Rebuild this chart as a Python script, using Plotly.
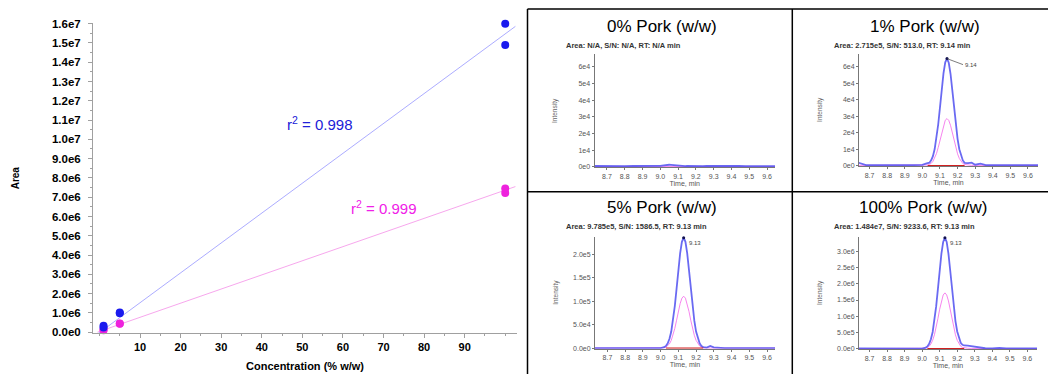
import plotly.graph_objects as go

W, H = 1048, 379
FONT = "Liberation Sans, Arial, sans-serif"

# ---------------- calibration data ----------------
conc_blue = [1, 1, 5, 5, 100, 100]
area_blue = [0.33e6, 0.24e6, 1.02e6, 0.98e6, 16.0e6, 14.9e6]
conc_mag = [1, 1, 5, 5, 100, 100]
area_mag = [0.14e6, 0.10e6, 0.45e6, 0.43e6, 7.45e6, 7.22e6]
fit_x = [-0.5, 102.5]
fit_blue = [-0.1e6, 15.86e6]
fit_mag = [0.0e6, 7.55e6]
r2_blue = "0.998"
r2_mag = "0.999"

y_tick_vals = [0, 1e6, 2e6, 3e6, 4e6, 5e6, 6e6, 7e6, 8e6, 9e6, 1e7, 1.1e7, 1.2e7, 1.3e7, 1.4e7, 1.5e7, 1.6e7]
y_tick_text = ["0.0e0", "1.0e6", "2.0e6", "3.0e6", "4.0e6", "5.0e6", "6.0e6", "7.0e6", "8.0e6", "9.0e6",
               "1.0e7", "1.1e7", "1.2e7", "1.3e7", "1.4e7", "1.5e7", "1.6e7"]
x_tick_vals = [10, 20, 30, 40, 50, 60, 70, 80, 90]

# ---------------- chromatogram data ----------------
time_min = [8.63, 8.65, 8.68, 8.72, 8.76, 8.80, 8.85, 8.90, 8.95, 9.00,
            9.02, 9.03, 9.04, 9.05, 9.06, 9.07, 9.08, 9.09, 9.10,
            9.11, 9.12, 9.13, 9.14, 9.15, 9.16, 9.17, 9.18, 9.19, 9.20,
            9.21, 9.22, 9.23, 9.24,
            9.26, 9.28, 9.30, 9.33, 9.36, 9.40, 9.44, 9.48, 9.52, 9.56, 9.60, 9.66]

p0_blue = [500, 450, 500, 450, 500, 450, 500, 450, 500, 600,
           900, 1100, 1200, 1250, 1200, 1100, 900, 700, 550,
           500, 450, 500, 450, 500, 450, 500, 450, 500, 450,
           500, 450, 500, 450,
           500, 450, 500, 450, 500, 450, 500, 450, 500, 450, 500, 450]
p0_mag = [250] * 45

p1_blue = [2000, 1500, 400, 300, 400, 300, 350, 300, 400, 500,
           1200, 1300, 1800, 3300, 5800, 10100, 16500, 25000, 35300,
           46200, 56000, 62800, 65000, 62500, 55800, 46000, 35100, 24900, 16300,
           10000, 5800, 3200, 1700,
           1500, 1800, 600, 1200, 400, 300, 350, 300, 300, 350, 300, 400]
p1_mag = [200, 200, 200, 200, 200, 200, 200, 200, 200, 200,
          300, 400, 800, 1400, 2600, 4500, 7300, 11000, 15500,
          20300, 24600, 27600, 28600, 27500, 24500, 20200, 15400, 10900, 7200,
          4400, 2600, 1300, 700,
          300, 200, 200, 200, 200, 200, 200, 200, 200, 200, 200, 200]

p5_blue = [300, 300, 300, 300, 300, 300, 300, 300, 300, 400,
           2200, 5000, 10400, 20100, 35600, 58800, 89900, 127200, 166900,
           202300, 227000, 236000, 227000, 202300, 166900, 127200, 89900, 58800, 35600,
           20100, 10400, 5000, 2500,
           1500, 5000, 2000, 800, 400, 300, 300, 300, 300, 300, 300, 300]
p5_mag = [200, 200, 200, 200, 200, 200, 200, 200, 200, 200,
          1000, 2300, 4900, 9400, 16800, 27600, 42300, 59800, 78500,
          95100, 106800, 111000, 106800, 95100, 78500, 59800, 42300, 27600, 16800,
          9400, 4900, 2300, 1000,
          300, 200, 200, 200, 200, 200, 200, 200, 200, 200, 200, 200]

p100_blue = [8000, 8000, 8000, 8000, 8000, 8000, 8000, 8000, 8000, 5000,
             32000, 72000, 150000, 291000, 516000, 852000, 1303000, 1843000, 2418000,
             2931000, 3290000, 3420000, 3290000, 2931000, 2418000, 1843000, 1303000, 852000, 530000,
             310000, 180000, 120000, 100000,
             95000, 80000, 50000, 25000, 15000, 12000, 25000, 10000, 8000, 8000, 8000, 8000]
p100_mag = [4000, 4000, 4000, 4000, 4000, 4000, 4000, 4000, 4000, 4000,
            16000, 36000, 76000, 146000, 260000, 428000, 655000, 927000, 1216000,
            1474000, 1655000, 1720000, 1655000, 1474000, 1216000, 927000, 655000, 428000, 260000,
            146000, 76000, 40000, 25000,
            15000, 10000, 6000, 4000, 4000, 4000, 4000, 4000, 4000, 4000, 4000, 4000]

base_t = [9.03, 9.24]
panel_titles = ["0% Pork (w/w)", "1% Pork (w/w)", "5% Pork (w/w)", "100% Pork (w/w)"]
panel_info = ["Area: N/A, S/N: N/A, RT: N/A min",
              "Area: 2.715e5, S/N: 513.0, RT: 9.14 min",
              "Area: 9.785e5, S/N: 1586.5, RT: 9.13 min",
              "Area: 1.484e7, S/N: 9233.6, RT: 9.13 min"]
rt_labels = [None, "9.14", "9.13", "9.13"]
time_tick_vals = [8.7, 8.8, 8.9, 9.0, 9.1, 9.2, 9.3, 9.4, 9.5, 9.6]
time_tick_text = ["8.7", "8.8", "8.9", "9.0", "9.1", "9.2", "9.3", "9.4", "9.5", "9.6"]
int_ticks = [
    ([0, 1e4, 2e4, 3e4, 4e4, 5e4, 6e4], ["0e0", "1e4", "2e4", "3e4", "4e4", "5e4", "6e4"]),
    ([0, 1e4, 2e4, 3e4, 4e4, 5e4, 6e4], ["0e0", "1e4", "2e4", "3e4", "4e4", "5e4", "6e4"]),
    ([0, 5e4, 1e5, 1.5e5, 2e5], ["0.0e0", "5.0e4", "1.0e5", "1.5e5", "2.0e5"]),
    ([0, 5e5, 1e6, 1.5e6, 2e6, 2.5e6, 3e6], ["0.0e0", "5.0e5", "1.0e6", "1.5e6", "2.0e6", "2.5e6", "3.0e6"]),
]
int_max = [6.8e4, 6.8e4, 2.38e5, 3.45e6]
blues = [p0_blue, p1_blue, p5_blue, p100_blue]
mags = [p0_mag, p1_mag, p5_mag, p100_mag]


def px(x):
    return x / W


def py(y):
    return 1 - y / H


def note(text, x, y, size, color="black", **kw):
    d = dict(text=text, x=px(x), y=py(y), xref="paper", yref="paper", showarrow=False,
             xanchor=kw.pop("xanchor", "center"), yanchor="middle",
             font=dict(family=FONT, size=size, color=color, weight=kw.pop("weight", "normal")))
    d.update(kw)
    return d


fig = go.Figure()

# ---------------- main calibration chart ----------------
BLUE = "#1a1aee"
MAG = "#ee22dd"
fig.add_trace(go.Scatter(x=fit_x, y=fit_blue, mode="lines", line=dict(color="rgba(90,90,255,0.5)", width=1),
                         hoverinfo="skip", showlegend=False))
fig.add_trace(go.Scatter(x=fit_x, y=fit_mag, mode="lines", line=dict(color="rgba(240,80,220,0.5)", width=1),
                         hoverinfo="skip", showlegend=False))
fig.add_trace(go.Scatter(x=conc_mag, y=area_mag, mode="markers", marker=dict(color=MAG, size=8),
                         showlegend=False, cliponaxis=False))
fig.add_trace(go.Scatter(x=conc_blue, y=area_blue, mode="markers", marker=dict(color=BLUE, size=8),
                         showlegend=False, cliponaxis=False))

layout = dict(
    width=W, height=H, margin=dict(l=0, r=0, t=0, b=0),
    paper_bgcolor="white", plot_bgcolor="white",
    font=dict(family=FONT, color="black"),
    showlegend=False,
    xaxis=dict(domain=[px(93), px(517)], range=[-1.6, 102.9], tickvals=x_tick_vals,
               showgrid=False, zeroline=False, showline=True, linecolor="#a0a0a0", linewidth=1,
               ticks="outside", ticklen=4, tickcolor="#a0a0a0",
               minor=dict(dtick=5, tick0=0, ticks="outside", ticklen=2, tickcolor="#a0a0a0"),
               tickfont=dict(family=FONT, size=11, color="black", weight="bold"),
               title=dict(text="Concentration (% w/w)", standoff=9,
                          font=dict(family=FONT, size=11, color="black", weight="bold"))),
    yaxis=dict(domain=[py(337), py(18)], range=[-0.05e6, 16.06e6], tickvals=y_tick_vals,
               ticktext=y_tick_text, showgrid=False, zeroline=False, showline=True,
               linecolor="#a0a0a0", linewidth=1, ticks="outside", ticklen=4, tickcolor="#a0a0a0",
               ticklabelstandoff=5,
               minor=dict(dtick=0.5e6, tick0=0, ticks="outside", ticklen=2, tickcolor="#a0a0a0"),
               tickfont=dict(family=FONT, size=11.5, color="black", weight="bold")),
)

annotations = [
    note("Area", 15, 178, 10, weight="bold", textangle=-90),
    note("r<sup>2</sup> = " + r2_blue, 319, 122, 15, color="#2020d8"),
    note("r<sup>2</sup> = " + r2_mag, 383, 208, 15, color="#f020e8"),
]

# ---------------- chromatogram panels ----------------
panels = [
    dict(x0=527, x1=792, ax=(594.5, 775), ay=(50, 166.7), xr=(8.63, 9.645)),
    dict(x0=792, x1=1048, ax=(859, 1038), ay=(50, 165.5), xr=(8.64, 9.657)),
    dict(x0=527, x1=792, ax=(595, 775), ay=(238, 353), xr=(8.63, 9.645)),
    dict(x0=792, x1=1048, ax=(859, 1037), ay=(238, 353.5), xr=(8.64, 9.655)),
]
title_x = [661.5, 925, 661.5, 923]
title_y = [21.7, 21.7, 208.5, 208.5]
info_y = [41.7, 41.7, 227, 227]
info_x = [564, 832, 564, 832]

for i, p in enumerate(panels):
    n = i + 2
    xa, ya = "x%d" % n, "y%d" % n
    ymax = int_max[i]
    blue = blues[i]
    mag = mags[i]
    fig.add_trace(go.Scatter(x=time_min, y=mag, xaxis=xa, yaxis=ya, mode="lines",
                             line=dict(color="rgba(245,110,235,0.85)", width=1), showlegend=False))
    fig.add_trace(go.Scatter(x=time_min, y=blue, xaxis=xa, yaxis=ya, mode="lines",
                             line=dict(color="rgba(80,80,240,0.85)", width=1.8), showlegend=False))
    if rt_labels[i]:
        fig.add_trace(go.Scatter(x=base_t, y=[mag[0] * 0.5, mag[0] * 0.5], xaxis=xa, yaxis=ya, mode="lines",
                                 line=dict(color="#d02020", width=1.2), showlegend=False))
        k = blue.index(max(blue))
        fig.add_trace(go.Scatter(x=[time_min[k]], y=[blue[k]], xaxis=xa, yaxis=ya, mode="markers",
                                 marker=dict(color="#101050", size=3), showlegend=False, cliponaxis=False))
        if i == 1:
            annotations.append(dict(text=rt_labels[i], x=time_min[k], y=blue[k], xref=xa, yref=ya,
                                    ax=16, ay=6, showarrow=True, arrowhead=0, arrowwidth=0.7,
                                    arrowcolor="#444", xanchor="left", yanchor="middle",
                                    font=dict(family=FONT, size=6, color="#444")))
        else:
            annotations.append(dict(text=rt_labels[i], x=time_min[k], y=blue[k], xref=xa, yref=ya,
                                    showarrow=False, xanchor="left", yanchor="top", xshift=3, yshift=0,
                                    font=dict(family=FONT, size=6, color="#444")))
    tv, tt = int_ticks[i]
    layout["xaxis%d" % n] = dict(domain=[px(p["ax"][0]), px(p["ax"][1])], range=list(p["xr"]),
                                 anchor=ya, tickvals=time_tick_vals, ticktext=time_tick_text,
                                 showgrid=False, zeroline=False, showline=True, linecolor="#777",
                                 linewidth=1, ticks="outside", ticklen=2, tickcolor="#777",
                                 tickfont=dict(family=FONT, size=7, color="#555"),
                                 title=dict(text="Time, min", standoff=1,
                                            font=dict(family=FONT, size=7, color="#555")))
    layout["yaxis%d" % n] = dict(domain=[py(p["ay"][1]), py(p["ay"][0])], range=[-0.004 * ymax, ymax],
                                 anchor=xa, tickvals=tv, ticktext=tt,
                                 showgrid=False, zeroline=False, showline=True, linecolor="#777",
                                 linewidth=1, ticks="outside", ticklen=2, tickcolor="#777",
                                 tickfont=dict(family=FONT, size=7, color="#555"))
    annotations.append(note(panel_titles[i], title_x[i], title_y[i], 17))
    annotations.append(note(panel_info[i], info_x[i], info_y[i], 7.5, color="#333", weight="bold",
                            xanchor="left"))
    annotations.append(note("Intensity", p["ax"][0] - 39, (p["ay"][0] + p["ay"][1]) / 2, 6.5,
                            color="#666", textangle=-90))

layout["annotations"] = annotations

# panel borders
shapes = []
for (x0, y0, x1, y1) in [(527.5, 4, 1048, 4), (527.5, 4, 527.5, 379), (792.3, 4, 792.3, 379),
                         (527.5, 191.7, 1048, 191.7)]:
    shapes.append(dict(type="line", xref="paper", yref="paper", x0=px(x0), y0=py(y0), x1=px(x1), y1=py(y1),
                       line=dict(color="black", width=1.5)))
layout["shapes"] = shapes

fig.update_layout(**layout)
fig.write_html("out.html", config={"displayModeBar": False},
               post_script="document.body.style.margin='0';document.body.style.overflow='hidden';")
